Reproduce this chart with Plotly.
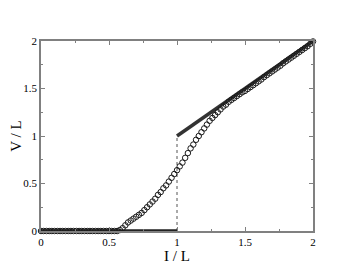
import plotly.graph_objects as go

# measured data (open circles), x step 0.02
x_data = [round(i * 0.02, 2) for i in range(101)]
y_data = [0.0] * 29 + [
    0.01, 0.03, 0.06, 0.09, 0.11, 0.13, 0.15, 0.17, 0.19, 0.22,   # 0.58..0.76
    0.25, 0.28, 0.31, 0.34, 0.38, 0.41, 0.45, 0.48, 0.52, 0.56,   # 0.78..0.96
    0.60, 0.64, 0.68, 0.72, 0.77, 0.82, 0.87, 0.91, 0.96, 1.00,   # 0.98..1.16
    1.04, 1.08, 1.12, 1.16, 1.19, 1.22, 1.25, 1.28, 1.31, 1.33,   # 1.18..1.36
    1.36, 1.38, 1.40, 1.42, 1.44, 1.46, 1.475, 1.495, 1.515, 1.535,   # 1.38..1.56
    1.555, 1.575, 1.595, 1.62, 1.64, 1.66, 1.68, 1.70, 1.72, 1.74,   # 1.58..1.76
    1.765, 1.785, 1.805, 1.825, 1.845, 1.865, 1.885, 1.905, 1.925, 1.945,   # 1.78..1.96
    1.97, 1.995,                                                   # 1.98..2.0
]

# theoretical curve (thick line), with a jump at I/L = 1
x_low = [0, 1]
y_low = [0, 0]
x_high = [1, 2]
y_high = [1, 2]
x_jump = [1, 1]
y_jump = [0, 1]

tick_vals = [0, 0.5, 1, 1.5, 2]
tick_text = ["0", "0.5", "1", "1.5", "2"]

fig = go.Figure()
fig.add_trace(go.Scatter(x=x_jump, y=y_jump, mode="lines",
                         line=dict(color="#555555", width=1, dash="dot")))
fig.add_trace(go.Scatter(x=x_low, y=y_low, mode="lines", cliponaxis=False,
                         line=dict(color="#222222", width=3.5)))
fig.add_trace(go.Scatter(x=x_high, y=y_high, mode="lines", cliponaxis=False,
                         line=dict(color="#333333", width=3.5)))
fig.add_trace(go.Scatter(x=x_data, y=y_data, mode="markers", cliponaxis=False,
                         marker=dict(symbol="circle-open", size=5.5, color="#1a1a1a",
                                     line=dict(width=1))))

axis_common = dict(
    range=[0, 2], tickvals=tick_vals, ticktext=tick_text,
    ticks="inside", ticklen=4, tickcolor="#808080",
    showline=True, linecolor="#808080", linewidth=1.5, mirror="ticks",
    showgrid=False, zeroline=False, automargin=False,
    minor=dict(tickvals=[0.25, 0.75, 1.25, 1.75], ticks="inside", ticklen=2,
               tickcolor="#808080"),
    tickfont=dict(family="Liberation Serif", size=11, color="black"),
)

fig.update_layout(
    width=345, height=265,
    margin=dict(l=33, r=40, t=33, b=42),
    paper_bgcolor="white", plot_bgcolor="white",
    showlegend=False,
    xaxis=dict(**axis_common,
               title=dict(text="I / L", standoff=0,
                          font=dict(family="Liberation Serif", size=15, color="black"))),
    yaxis=dict(**axis_common,
               title=dict(text="V / L", standoff=6,
                          font=dict(family="Liberation Serif", size=15, color="black"))),
)

fig.write_html("out.html")
